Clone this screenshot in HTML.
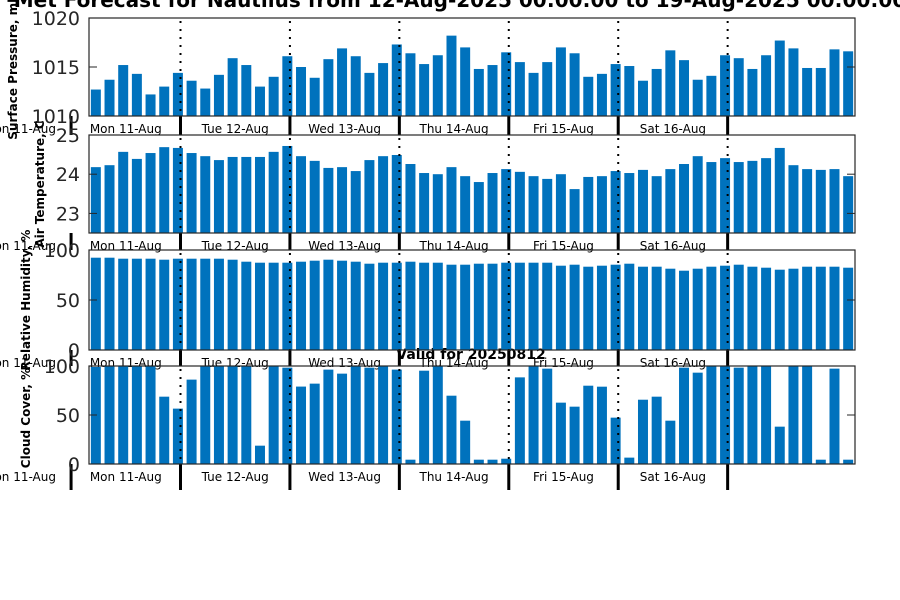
<!DOCTYPE html>
<html><head><meta charset="utf-8"><style>
html,body{margin:0;padding:0;background:#fff;}
svg{display:block;font-family:"DejaVu Sans","Liberation Sans",sans-serif;}
</style></head><body>
<svg id="chart" width="900" height="600" viewBox="0 0 900 600" xmlns="http://www.w3.org/2000/svg">
<rect x="0" y="0" width="900" height="600" fill="#fff"/>
<text x="460" y="7" text-anchor="middle" font-size="20" font-weight="bold" fill="#000">Met Forecast for Nautilus from 12-Aug-2025 00:00:00 to 19-Aug-2025 00:00:00</text>
<text x="471" y="359" text-anchor="middle" font-size="14" font-weight="bold" fill="#000">Valid for 20250812</text>
<g id="plots"></g>
</svg>
<script>
const dayLabels = ["Mon 11-Aug","Tue 12-Aug","Wed 13-Aug","Thu 14-Aug","Fri 15-Aug","Sat 16-Aug"];
const pressure = [1012.7,1013.7,1015.2,1014.3,1012.2,1013.0,1014.4,1013.6,1012.8,1014.2,1015.9,1015.2,1013.0,1014.0,1016.1,1015.0,1013.9,1015.8,1016.9,1016.1,1014.4,1015.4,1017.3,1016.4,1015.3,1016.2,1018.2,
1017.0,1014.8,1015.2,1016.5,1015.5,1014.4,1015.5,1017.0,1016.4,1014.0,1014.3,1015.3,1015.1,1013.6,1014.8,1016.7,1015.7,1013.7,1014.1,1016.2,1015.9,1014.8,1016.2,1017.7,1016.9,1014.9,1014.9,1016.8,1016.6];
const temperature = [24.18,24.23,24.57,24.39,24.54,24.69,24.67,24.54,24.46,24.36,24.44,24.44,24.44,24.57,24.72,24.46,24.34,24.16,24.18,24.08,24.36,24.46,24.49,24.26,24.03,24.0,24.18,
23.95,23.8,24.03,24.13,24.06,23.95,23.88,24.0,23.62,23.93,23.95,24.08,24.03,24.11,23.95,24.13,24.26,24.46,24.31,24.41,24.31,24.34,24.41,24.67,24.23,24.13,24.11,24.13,23.95];
const humidity = [92.3,92.3,91.3,91.3,91.3,90.3,91.3,91.3,91.3,91.3,90.3,88.3,87.3,87.3,87.3,88.3,89.3,90.3,89.3,88.3,86.3,87.3,87.3,88.3,87.3,87.3,85.3,
85.3,86.3,86.3,87.3,87.3,87.3,87.3,84.3,85.3,83.3,84.3,85.3,86.3,83.3,83.3,81.3,79.3,81.3,83.3,84.3,85.3,83.3,82.3,80.3,81.3,83.3,83.3,83.3,82.3];
const cloud = [99,100,100,100,100,68.7,56.5,86.1,100,100,100,100,18.7,100,98.3,79,82,96.3,92.2,100,98.3,100,96.3,4.4,95.2,100,69.7,
44.2,4.4,4.4,5.4,88.4,100,97.3,62.6,58.5,79.9,78.9,47.3,6.5,65.6,68.7,44.2,98.3,93.2,100,100,98.3,100,100,38.1,100,100,4.4,97.3,4.4];
const pressureTicks = [1010,1015,1020];
const tempTicks = [23,24,25];
const humTicks = [0,50,100];
const cloudTicks = [0,50,100];

const NS = "http://www.w3.org/2000/svg";
const root = document.getElementById("plots");
const X0 = 89, X1 = 855;
function mk(tag, attrs, parent){
  const e = document.createElementNS(NS, tag);
  for (const k in attrs) e.setAttribute(k, attrs[k]);
  (parent||root).appendChild(e);
  return e;
}
const panels = [
  {name:"pressure", data:pressure, ticks:pressureTicks, min:1010, max:1020, top:18, bot:116, strip:135, label:"Surface Pressure, mb", lx:13, ly:67},
  {name:"temperature", data:temperature, ticks:tempTicks, min:22.5, max:25, top:135, bot:233, strip:250, label:"Air Temperature, C", lx:40, ly:184},
  {name:"humidity", data:humidity, ticks:humTicks, min:0, max:100, top:250, bot:350, strip:366, label:"Relative Humidity, %", lx:26, ly:300},
  {name:"cloud", data:cloud, ticks:cloudTicks, min:0, max:100, top:366, bot:464, strip:490, label:"Cloud Cover, %", lx:26, ly:418}
];
panels.forEach(p => {
  const g = mk("g", {});
  
  
  const n = p.data.length;
  const step = (X1 - X0) / n;
  const xs = i => X0 + (i + 0.5) * step;
  const ys = v => p.bot - (v - p.min) / (p.max - p.min) * (p.bot - p.top);
  const bw = step * 0.73;
  p.data.forEach((v, i) => {
    const y = Math.max(p.top, ys(v));
    const r = mk("rect", {x: xs(i) - bw/2, y: y, width: bw, height: p.bot - y, fill: "#0072BD"}, g);
    
    
  });
  // day dividers
  const dayW = step * 8;
  const d0 = 180.5 - dayW;
  for (let k = 0; k <= 6; k++) {
    const dx = d0 + k * dayW;
    if (k > 0) {
      const dl = mk("line", {x1: dx, x2: dx, y1: p.top + 3, y2: p.bot, stroke: "#000", "stroke-width": 2, "stroke-dasharray": "2,6"}, g);
      
      
    }
    const tl = mk("line", {x1: dx, x2: dx, y1: p.bot, y2: p.strip, stroke: "#000", "stroke-width": 3}, g);
    
    
  }
  dayLabels.forEach((d, k) => {
    const t = mk("text", {x: d0 + (k + 0.5) * dayW, y: p.bot + 17, "text-anchor": "middle", "font-size": 12, fill: "#000"}, g);
    t.textContent = d;
    
    
  });
  const lt = mk("text", {x: 56, y: p.bot + 17, "text-anchor": "end", "font-size": 12, fill: "#000"}, g);
  lt.textContent = "Mon 11-Aug";
  
  
  // axes box
  const box = mk("rect", {x: X0, y: p.top, width: X1 - X0, height: p.bot - p.top, fill: "none", stroke: "#262626", "stroke-width": 1.2}, g);
  
  
  p.ticks.forEach(tv => {
    const y = ys(tv);
    const a = mk("line", {x1: X0, x2: X0 + 8, y1: y, y2: y, stroke: "#262626", "stroke-width": 1}, g);
    
    
    const b = mk("line", {x1: X1 - 8, x2: X1, y1: y, y2: y, stroke: "#262626", "stroke-width": 1}, g);
    
    
    const t = mk("text", {x: 80, y: y + 7, "text-anchor": "end", "font-size": 19, fill: "#262626"}, g);
    t.textContent = tv;
    
    
  });
  const yl = mk("text", {x: p.lx, y: p.ly, "text-anchor": "middle", "font-size": 12, "font-weight": "bold", fill: "#000", transform: "rotate(-90 " + p.lx + " " + p.ly + ")", dy: 4}, g);
  yl.textContent = p.label;
  
  
});
</script>
</body></html>
